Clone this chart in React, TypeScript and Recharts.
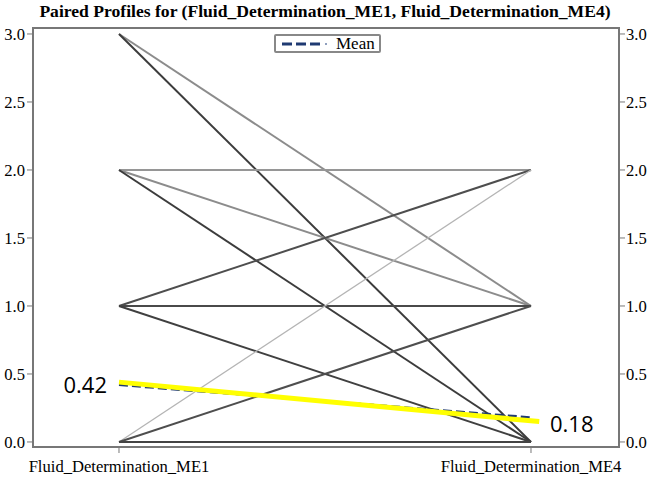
import React from 'react';
import { LineChart, Line, XAxis, YAxis, ReferenceArea, ReferenceDot, Label } from 'recharts';

const categories = ['Fluid_Determination_ME1', 'Fluid_Determination_ME4'];
const me1Values = [3, 3, 2, 2, 2, 1, 1, 1, 0, 0, 0];
const me4Values = [1, 0, 2, 1, 0, 2, 1, 0, 2, 1, 0];
const profileShades = ['#8c8c8c', '#3c3c3c', '#969696', '#8c8c8c', '#3c3c3c', '#4e4e4e', '#4a4a4a', '#404040', '#b4b4b4', '#4e4e4e', '#444444'];
const profileWidths = [2, 2, 2, 2, 2, 2, 2, 2, 1.3, 2, 2];
const meanValues = [0.42, 0.18];
const highlightX = [0, 1.02];
const highlightValues = [0.44, 0.15];
const meanLabels = ['0.42', '0.18'];
const yTicks = [0, 0.5, 1, 1.5, 2, 2.5, 3];
const xDomain = [-0.2087, 1.2136];
const yDomain = [-0.037, 3.044];

const rows = categories.map((c, i) => {
  const row: any = { x: i, mean: meanValues[i] };
  me1Values.forEach((v, k) => {
    row['p' + k] = i === 0 ? v : me4Values[k];
  });
  return row;
});
const highlightRows = highlightX.map((x, i) => ({ x, hl: highlightValues[i] }));

const serif = 'Liberation Serif, Times New Roman, serif';
const tickStyle = { fill: '#000', fontSize: 16.6, fontFamily: serif };

const LegendBox = () => (
  <div style={{ position: 'absolute', left: 274, top: 34, border: '2px solid #888', borderRadius: 2, background: '#fff', display: 'flex', alignItems: 'center', padding: '0 4px', height: 15, fontFamily: serif, fontSize: 17, color: '#000' }}>
    <svg width={50} height={10}>
      <line x1={2} y1={5} x2={42} y2={5} stroke="#1f3a72" strokeWidth={3} strokeDasharray="10 4" />
      <circle cx={46} cy={5} r={1} fill="#6a7fa8" />
    </svg>
    <span style={{ marginLeft: 6 }}>Mean</span>
  </div>
);

export default function App() {
  return (
    <div style={{ position: 'absolute', left: 0, top: 0, width: 650, height: 480, background: '#fff' }}>
      <div style={{ position: 'absolute', left: 0, top: 2, width: 650, textAlign: 'center', fontFamily: serif, fontWeight: 'bold', fontSize: 17.6, lineHeight: '19px', color: '#000' }}>
        Paired Profiles for (Fluid_Determination_ME1, Fluid_Determination_ME4)
      </div>
      <LineChart width={650} height={480} data={rows} margin={{ top: 28, right: 0, bottom: 0, left: 0 }}>
        <XAxis
          type="number"
          dataKey="x"
          domain={xDomain}
          allowDataOverflow
          ticks={[0, 1]}
          tickFormatter={(v: number) => categories[v] ?? ''}
          height={33}
          tick={tickStyle}
          tickSize={6}
          tickMargin={7}
          axisLine={{ stroke: '#777', strokeWidth: 2 }}
          tickLine={{ stroke: '#777' }}
        />
        <YAxis
          yAxisId="left"
          type="number"
          domain={yDomain}
          allowDataOverflow
          ticks={yTicks}
          tickFormatter={(v: number) => v.toFixed(1)}
          width={33}
          tick={tickStyle}
          tickSize={6}
          tickMargin={2}
          axisLine={{ stroke: '#777', strokeWidth: 2 }}
          tickLine={{ stroke: '#777' }}
        />
        <YAxis
          yAxisId="right"
          orientation="right"
          type="number"
          domain={yDomain}
          allowDataOverflow
          ticks={yTicks}
          tickFormatter={(v: number) => v.toFixed(1)}
          width={31}
          tick={tickStyle}
          tickSize={6}
          tickMargin={1}
          axisLine={{ stroke: '#777', strokeWidth: 2 }}
          tickLine={{ stroke: '#777' }}
        />
        <ReferenceArea yAxisId="left" x1={xDomain[0]} x2={xDomain[1]} y1={yDomain[0]} y2={yDomain[1]} fill="none" stroke="#777" strokeWidth={2} ifOverflow="visible" />
        {me1Values.map((_, k) => (
          <Line
            key={k}
            yAxisId="left"
            dataKey={'p' + k}
            stroke={profileShades[k]}
            strokeWidth={profileWidths[k]}
            dot={false}
            legendType="none"
            isAnimationActive={false}
          />
        ))}
        <Line yAxisId="left" dataKey="mean" name="Mean" stroke="#1f3a72" strokeWidth={2.5} strokeDasharray="9 4" dot={false} isAnimationActive={false} />
        <Line yAxisId="left" data={highlightRows} dataKey="hl" stroke="#ffff00" strokeWidth={5} dot={false} legendType="none" isAnimationActive={false} />
        <ReferenceDot yAxisId="left" x={0} y={meanValues[0]} r={0.01} fill="none" stroke="none" ifOverflow="visible">
          <Label value={meanLabels[0]} position="left" offset={12} fill="#000" fontSize={22} fontFamily="Open Sans, sans-serif" />
        </ReferenceDot>
        <ReferenceDot yAxisId="left" x={1} y={meanValues[1]} r={0.01} fill="none" stroke="none" ifOverflow="visible">
          <Label value={meanLabels[1]} position="right" offset={19} dy={7} fill="#000" fontSize={22} fontFamily="Open Sans, sans-serif" />
        </ReferenceDot>
      </LineChart>
      <LegendBox />
    </div>
  );
}
